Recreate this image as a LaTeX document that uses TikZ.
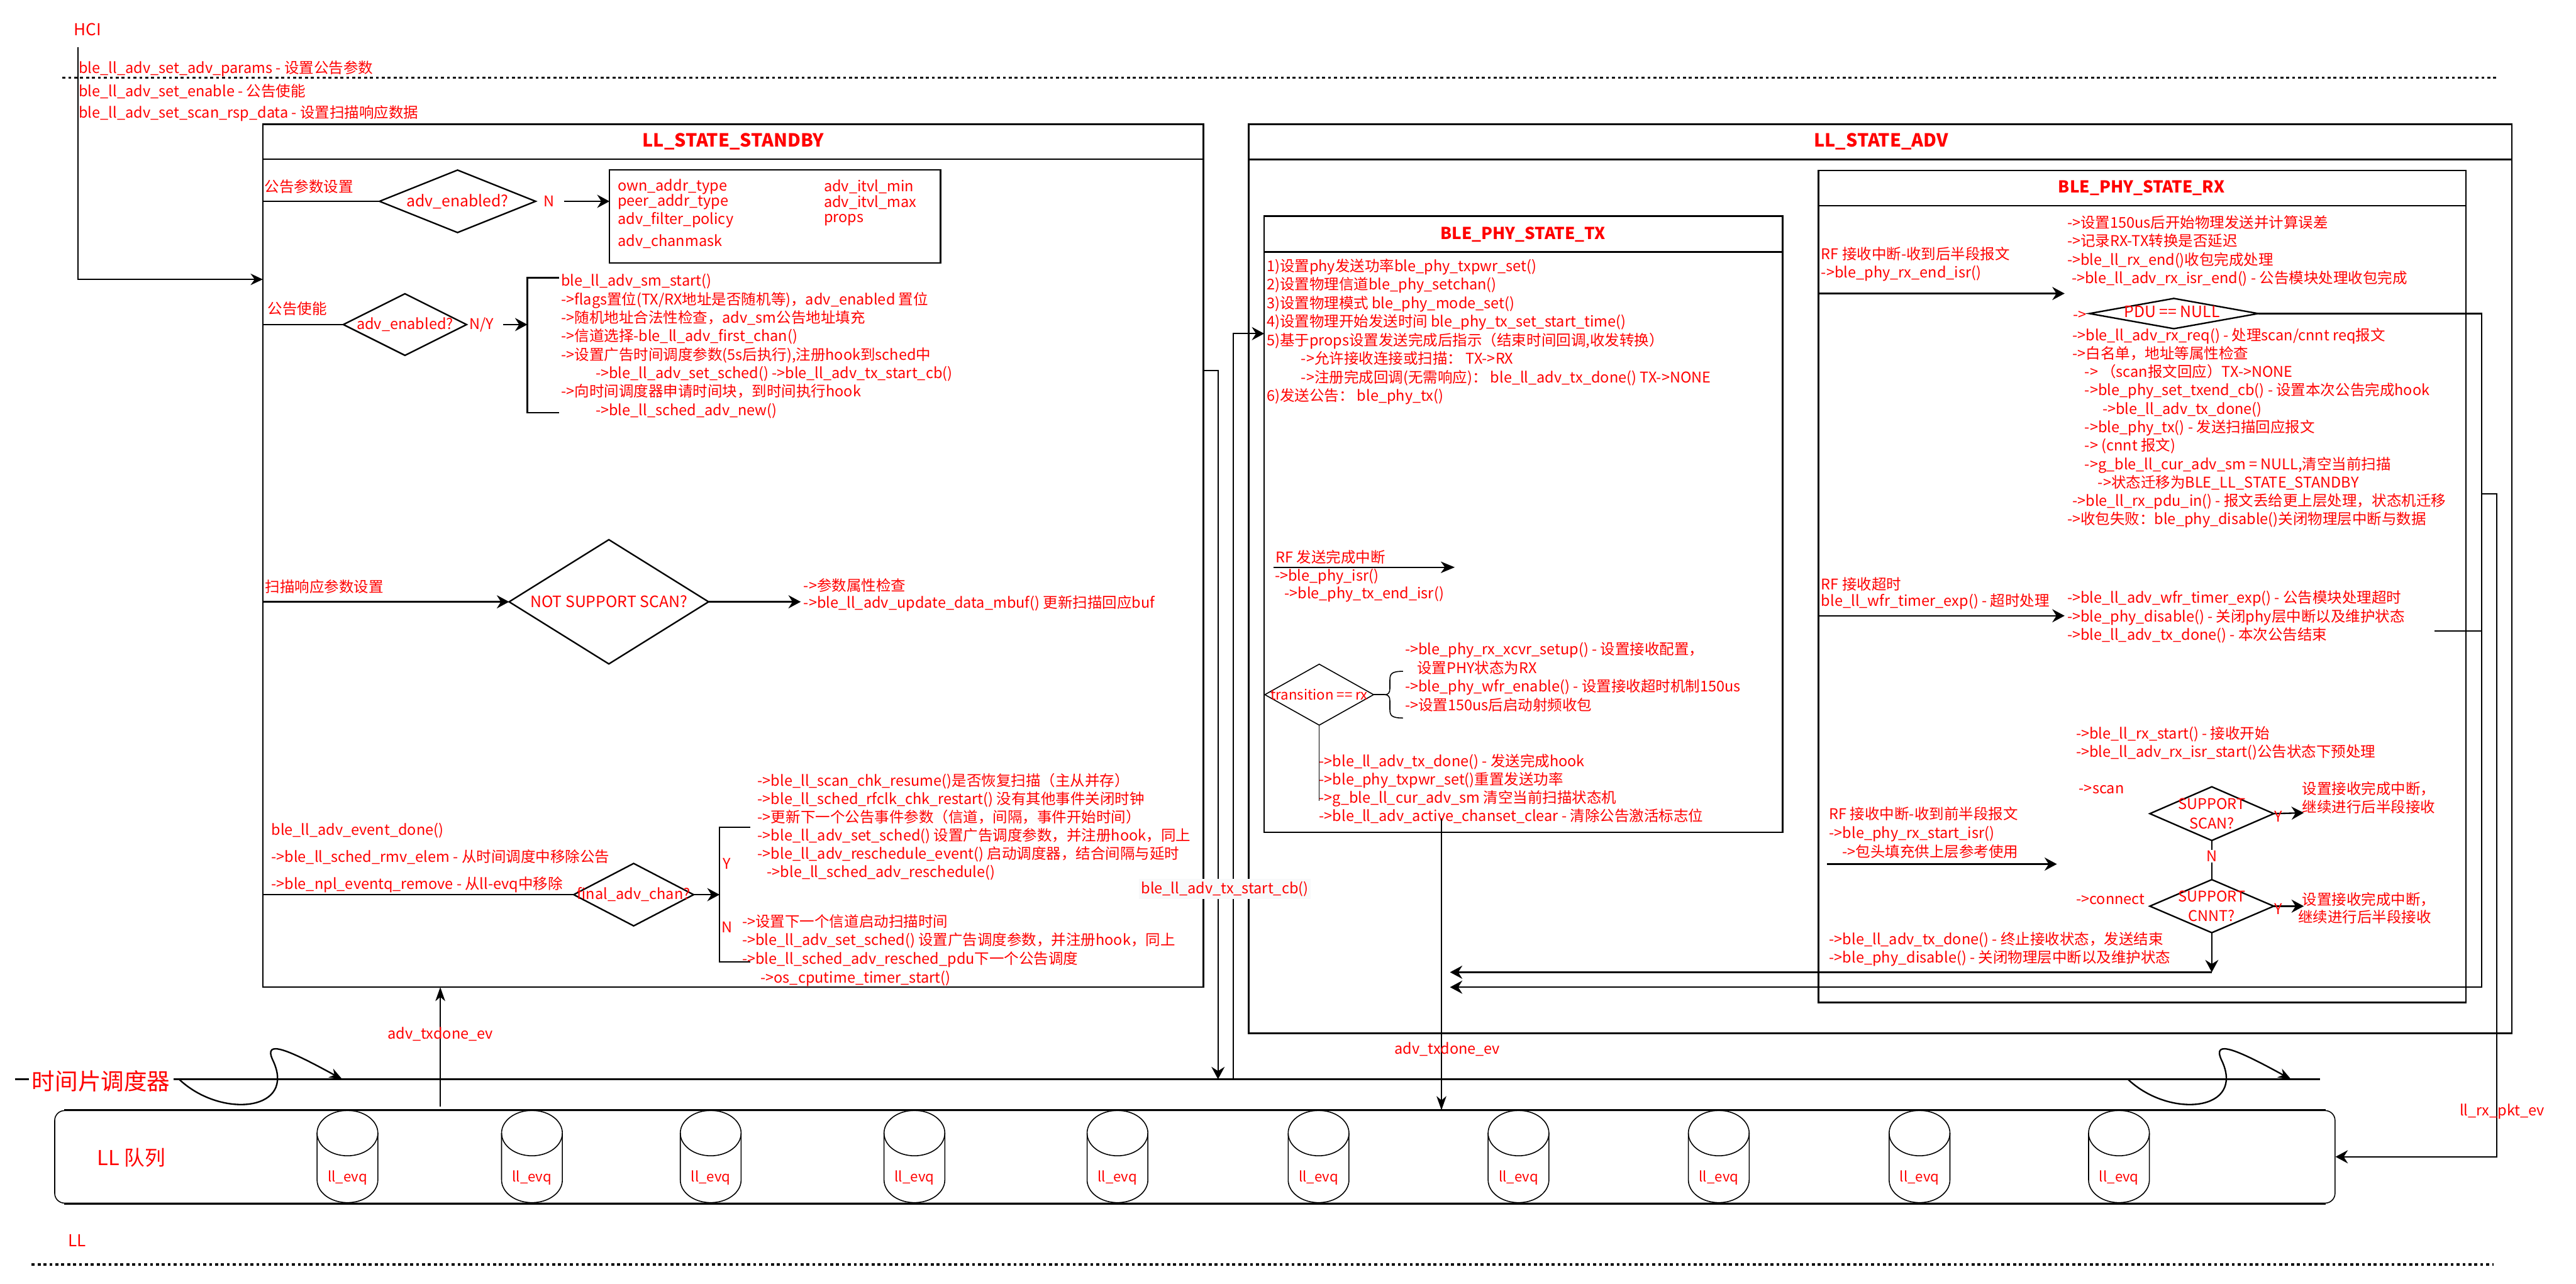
\documentclass[tikz,border=0pt]{standalone}
\usepackage{fontspec}
\setmainfont{Noto Sans CJK SC}
\usetikzlibrary{shapes.geometric,arrows.meta,calc}
\definecolor{rd}{RGB}{255,0,0}
\definecolor{lblbg}{RGB}{248,249,250}
\tikzset{
 box/.style={draw, line width=1pt, rectangle, inner sep=0pt, outer sep=0pt, anchor=north west},
 txt/.style={text=rd, inner sep=0pt, outer sep=0pt, align=left, anchor=north west, font=\fontsize{9}{11.3}\selectfont},
 lt/.style={text=rd, inner sep=0pt, outer sep=0pt, anchor=west, font=\fontsize{9}{11}\selectfont},
 ct/.style={text=rd, inner sep=0pt, outer sep=0pt, font=\fontsize{9}{11}\selectfont},
 ttl/.style={text=rd, inner sep=0pt, font=\bfseries\fontsize{10.5}{12}\selectfont},
 dia/.style={draw, diamond, line width=0.9pt, inner sep=0pt, outer sep=0pt},
 con/.style={line width=0.9pt},
 arr/.style={con, -{Stealth[length=7.5pt,width=8pt,inset=2.5pt]}},
 thn/.style={line width=0.5pt},
 tarr/.style={thn, -{Stealth[length=8.5pt,width=6pt,inset=2.5pt]}},
 tarr2/.style={line width=0.6pt, -{Stealth[length=8.5pt,width=7pt,inset=2.5pt]}},
 dotl/.style={line width=1.4pt, dash pattern=on 1.8pt off 1.8pt},
}
\begin{document}
\begin{tikzpicture}[x=1pt,y=-1pt]
\useasboundingbox (0,0) rectangle (1568,781);

% ---------- boxes ----------
\node (sb) [box, minimum width=572.5, minimum height=525.2] at (160,75.5) {};
\draw[line width=1pt] ($(sb.north west)+(0,21.3)$) -- ($(sb.north east)+(0,21.3)$);
\node (adv) [box, minimum width=769, minimum height=553.3] at (760,75.5) {};
\draw[line width=1pt] ($(adv.north west)+(0,21.5)$) -- ($(adv.north east)+(0,21.5)$);
\node (tx) [box, minimum width=315.5, minimum height=374.9] at (769.5,131.6) {};
\draw[line width=1pt] ($(tx.north west)+(0,21.8)$) -- ($(tx.north east)+(0,21.8)$);
\node (rx) [box, minimum width=394, minimum height=506.3] at (1107,103.7) {};
\draw[line width=1pt] ($(rx.north west)+(0,21.5)$) -- ($(rx.north east)+(0,21.5)$);
\node (pb) [box, minimum width=201.5, minimum height=56.6] at (371,103.4) {};
\node (q) [draw, line width=0.6pt, rounded corners=6pt, inner sep=0pt, anchor=north west, minimum width=1388, minimum height=56.3] at (33,675.5) {};
\draw[line width=1.3pt] ($(q.north west)+(6,0)$) -- ($(q.north east)+(-6,0)$);
\draw[line width=1.3pt] ($(q.south west)+(6,0)$) -- ($(q.south east)+(-6,0)$);

% ---------- HCI ----------
\node (hci) [lt, font=\fontsize{10}{12}\selectfont] at (45,18) {HCI};
\draw[dotl] (38,47.3) -- (1520,47.3);
\node (h1) [lt] at (48,42) {ble\_ll\_adv\_set\_adv\_params - 设置公告参数};
\node (h2) [lt] at (48,55.5) {ble\_ll\_adv\_set\_enable - 公告使能};
\node (h3) [lt] at (48,69) {ble\_ll\_adv\_set\_scan\_rsp\_data - 设置扫描响应数据};
\coordinate (hc1) at (47.4,28.6);
\coordinate (hc2) at (160,170);
\draw[line width=0.6pt, -{Stealth[length=7.5pt,width=7pt,inset=2.5pt]}] (hc1) |- (hc2);

% ---------- STANDBY ----------
\node (sbt) [ttl, font=\bfseries\fontsize{11}{13}\selectfont] at (446.3,86.3) {LL\_STATE\_STANDBY};
\node (s1) [lt] at (161,113.5) {公告参数设置};
\node (d1) [dia, minimum width=95, minimum height=38] at (278.5,122.5) {};
\node (d1t) [ct, font=\fontsize{9.5}{11}\selectfont] at (d1) {adv\_enabled?};
\draw[con] (sb.west |- d1) -- (d1.west);
\node (n1) [ct] at (334,122.5) {N};
\draw[arr] ($(n1.east)+(6,0)$) -- (pb.west |- n1);
\node (p1) [lt] at (376,113.5) {own\_addr\_type};
\node (p2) [lt] at (376,123) {peer\_addr\_type};
\node (p3) [lt] at (376,134) {adv\_filter\_policy};
\node (p4) [lt] at (376,147) {adv\_chanmask};
\node (p5) [lt] at (501.5,113.5) {adv\_itvl\_min};
\node (p6) [lt] at (501.5,123) {adv\_itvl\_max};
\node (p7) [lt] at (501.5,134) {props};

\node (s2) [lt] at (163,188) {公告使能};
\node (d2) [dia, minimum width=75, minimum height=37.5] at (246.5,197.5) {};
\node (d2t) [ct] at (d2) {adv\_enabled?};
\draw[con] (sb.west |- d2) -- (d2.west);
\node (n2) [ct] at (293,197.5) {N/Y};
\coordinate (br1t) at (340.5,169);
\coordinate (br1b) at (340.5,251);
\coordinate (br1m) at (321,197.5);
\draw[con] (br1t) -| (br1m) |- (br1b);
\draw[arr] ($(n2.east)+(6,0)$) -- (br1m);
\node (s3) [txt, font=\fontsize{9}{11.24}\selectfont] at (341.6,166.7) {ble\_ll\_adv\_sm\_start()\\
->flags置位(TX/RX地址是否随机等)，adv\_enabled 置位\\
->随机地址合法性检查，adv\_sm公告地址填充\\
->信道选择-ble\_ll\_adv\_first\_chan()\\
->设置广告时间调度参数(5s后执行),注册hook到sched中\\
\hspace*{21pt}->ble\_ll\_adv\_set\_sched() ->ble\_ll\_adv\_tx\_start\_cb()\\
->向时间调度器申请时间块，到时间执行hook\\
\hspace*{21pt}->ble\_ll\_sched\_adv\_new()};

\node (s4) [lt] at (161.5,357) {扫描响应参数设置};
\node (d3) [dia, minimum width=121.4, minimum height=75.6] at (370.6,366.2) {};
\node (d3t) [ct, font=\fontsize{9.5}{11}\selectfont] at (d3) {NOT SUPPORT SCAN?};
\draw[arr] (sb.west |- d3) -- (d3.west);
\coordinate (s5a) at (487.4,366.2);
\draw[arr] (d3.east) -- (s5a);
\node (s5) [lt] at (489.2,356.4) {->参数属性检查};
\node (s6) [lt] at (489.2,367.3) {->ble\_ll\_adv\_update\_data\_mbuf() 更新扫描回应buf};

\node (s7) [txt, font=\fontsize{9}{16.45}\selectfont] at (165.2,500.7) {ble\_ll\_adv\_event\_done()\\
->ble\_ll\_sched\_rmv\_elem - 从时间调度中移除公告\\
->ble\_npl\_eventq\_remove - 从ll-evq中移除};
\node (d4) [dia, minimum width=73, minimum height=38] at (385.7,544.4) {};
\node (d4t) [ct] at (d4) {final\_adv\_chan?};
\draw[con] (sb.west |- d4) -- (d4.west);
\coordinate (br2t) at (456.7,503.4);
\coordinate (br2b) at (456.7,585.2);
\coordinate (br2m) at (438,544.4);
\draw[con] (br2t) -| (br2m) |- (br2b);
\draw[arr] (d4.east) -- (br2m);
\node (yy) [ct] at (442.5,525.4) {Y};
\node (nn) [ct] at (442.5,564.3) {N};
\node (s8) [txt, font=\fontsize{9}{11.15}\selectfont] at (461.2,470.5) {->ble\_ll\_scan\_chk\_resume()是否恢复扫描（主从并存）\\
->ble\_ll\_sched\_rfclk\_chk\_restart() 没有其他事件关闭时钟\\
->更新下一个公告事件参数（信道，间隔，事件开始时间）\\
->ble\_ll\_adv\_set\_sched() 设置广告调度参数，并注册hook，同上\\
->ble\_ll\_adv\_reschedule\_event() 启动调度器，结合间隔与延时\\
\hspace*{5.7pt}->ble\_ll\_sched\_adv\_reschedule()};
\node (s9) [txt, font=\fontsize{9}{11.43}\selectfont] at (451.8,556.3) {->设置下一个信道启动扫描时间\\
->ble\_ll\_adv\_set\_sched() 设置广告调度参数，并注册hook，同上\\
->ble\_ll\_sched\_adv\_resched\_pdu下一个公告调度\\
\hspace*{11.2pt}->os\_cputime\_timer\_start()};

% ---------- ADV ----------
\node (advt) [ttl, font=\bfseries\fontsize{11}{13}\selectfont] at (1145,86.3) {LL\_STATE\_ADV};

% TX
\node (txh) [ttl, font=\bfseries\fontsize{10}{12}\selectfont] at (927,142.5) {BLE\_PHY\_STATE\_TX};
\node (t1) [txt, font=\fontsize{9}{11.29}\selectfont] at (771,157.5) {1)设置phy发送功率ble\_phy\_txpwr\_set()\\
2)设置物理信道ble\_phy\_setchan()\\
3)设置物理模式 ble\_phy\_mode\_set()\\
4)设置物理开始发送时间 ble\_phy\_tx\_set\_start\_time()\\
5)基于props设置发送完成后指示（结束时间回调,收发转换）\\
\hspace*{21pt}->允许接收连接或扫描： TX->RX\\
\hspace*{21pt}->注册完成回调(无需响应)： ble\_ll\_adv\_tx\_done() TX->NONE\\
6)发送公告： ble\_phy\_tx()};
\node (t2) [lt] at (776.6,338.9) {RF 发送完成中断};
\coordinate (t2a) at (775,345.2);
\coordinate (t2b) at (885.5,345.2);
\draw[tarr2] (t2a) -- (t2b);
\node (t3) [lt] at (776,350.8) {->ble\_phy\_isr()};
\node (t4) [lt] at (781.8,361.8) {->ble\_phy\_tx\_end\_isr()};
\node (d5) [dia, line width=0.6pt, minimum width=66.2, minimum height=37.1] at (803,422.7) {};
\node (d5t) [ct, font=\fontsize{8.5}{10}\selectfont] at (d5) {transition == rx};
\coordinate (brc) at (843,422.7);
\draw[line width=0.6pt] (d5.east) -- (brc);
\draw[line width=0.6pt] (854,408.5) .. controls (847,408.5) and (846,410) .. (846,414) -- (846,419) .. controls (846,421.5) and (845,422.7) .. (brc) .. controls (845,422.7) and (846,424) .. (846,426.4) -- (846,431.5) .. controls (846,435.4) and (847,436.9) .. (854,436.9);
\node (t5) [txt, font=\fontsize{9}{11.27}\selectfont] at (855.2,390.9) {->ble\_phy\_rx\_xcvr\_setup() - 设置接收配置，\\
\hspace*{7.4pt}设置PHY状态为RX\\
->ble\_phy\_wfr\_enable() - 设置接收超时机制150us\\
->设置150us后启动射频收包};
\coordinate (t6a) at (803,487.5);
\draw[line width=0.6pt] (d5.south) -- (t6a);
\node (t6) [txt, font=\fontsize{9}{11.2}\selectfont] at (803,458.7) {->ble\_ll\_adv\_tx\_done() - 发送完成hook\\
->ble\_phy\_txpwr\_set()重置发送功率\\
->g\_ble\_ll\_cur\_adv\_sm 清空当前扫描状态机\\
->ble\_ll\_adv\_active\_chanset\_clear - 清除公告激活标志位};

% RX
\node (rxh) [ttl, font=\bfseries\fontsize{10}{12}\selectfont] at (1303.5,114.4) {BLE\_PHY\_STATE\_RX};
\node (r1) [lt] at (1108.6,154.3) {RF 接收中断-收到后半段报文};
\node (r1b) [lt] at (1108.6,166.3) {->ble\_phy\_rx\_end\_isr()};
\coordinate (r1c) at (1256.7,178.6);
\draw[arr] (rx.west |- r1c) -- (r1c);
\node (r2) [txt, font=\fontsize{9}{11.33}\selectfont] at (1258.3,131) {->设置150us后开始物理发送并计算误差\\
->记录RX-TX转换是否延迟\\
->ble\_ll\_rx\_end()收包完成处理\\
\hspace*{2.7pt}->ble\_ll\_adv\_rx\_isr\_end() - 公告模块处理收包完成};
\node (r2b) [lt] at (1262,191.8) {->};
\node (d6) [dia, minimum width=102.8, minimum height=18.4] at (1323.2,190.8) {};
\node (d6t) [ct, font=\fontsize{9.5}{11}\selectfont] at (1322,189.8) {PDU == NULL};
\coordinate (v1) at (1510.5,190.8);
\coordinate (v2) at (1510.5,600.7);
\coordinate (v3) at (882.6,600.7);
\draw[arr] (d6.east) -- (v1) -- (v2) -- (v3);
\node (r3) [txt, font=\fontsize{9}{11.21}\selectfont] at (1258.3,199.5) {\hspace*{3.2pt}->ble\_ll\_adv\_rx\_req() - 处理scan/cnnt req报文\\
\hspace*{3.2pt}->白名单，地址等属性检查\\
\hspace*{10.7pt}-> （scan报文回应）TX->NONE\\
\hspace*{10.7pt}->ble\_phy\_set\_txend\_cb() - 设置本次公告完成hook\\
\hspace*{21.5pt}->ble\_ll\_adv\_tx\_done()\\
\hspace*{10.7pt}->ble\_phy\_tx() - 发送扫描回应报文\\
\hspace*{10.7pt}-> (cnnt 报文)\\
\hspace*{10.7pt}->g\_ble\_ll\_cur\_adv\_sm = NULL,清空当前扫描\\
\hspace*{18.7pt}->状态迁移为BLE\_LL\_STATE\_STANDBY\\
\hspace*{3.2pt}->ble\_ll\_rx\_pdu\_in() - 报文丢给更上层处理，状态机迁移\\
->收包失败：ble\_phy\_disable()关闭物理层中断与数据};

\node (r4) [lt] at (1108.6,355.4) {RF 接收超时};
\node (r4b) [lt] at (1108.6,366.2) {ble\_ll\_wfr\_timer\_exp() - 超时处理};
\coordinate (r4c) at (1256.7,374.7);
\draw[arr] (rx.west |- r4c) -- (r4c);
\node (r5) [txt, font=\fontsize{9}{11.2}\selectfont] at (1258.3,359.5) {->ble\_ll\_adv\_wfr\_timer\_exp() - 公告模块处理超时\\
->ble\_phy\_disable() - 关闭phy层中断以及维护状态\\
->ble\_ll\_adv\_tx\_done() - 本次公告结束};
\coordinate (r5c) at (1482,384);
\draw[con] (r5c) -- (v1 |- r5c);

\node (r6) [txt, font=\fontsize{9}{10.9}\selectfont] at (1263.7,442.1) {->ble\_ll\_rx\_start() - 接收开始\\
->ble\_ll\_adv\_rx\_isr\_start()公告状态下预处理};
\node (r7) [lt] at (1265.5,480.1) {->scan};
\node (d7) [dia, minimum width=75.4, minimum height=32.7] at (1346.3,495.1) {};
\node (d7t) [ct, align=center, font=\fontsize{9}{11.7}\selectfont] at (d7) {SUPPORT\\SCAN?};
\coordinate (d7y) at (1402.3,494.6);
\draw[arr] (d7.east) -- (d7y);
\node (y1) [ct] at (1387,497) {Y};
\node (r8) [txt, font=\fontsize{9}{10.8}\selectfont] at (1401.4,475.8) {设置接收完成中断，\\继续进行后半段接收};
\node (d8) [dia, minimum width=75.4, minimum height=32.3] at (1346.3,551.4) {};
\node (d8t) [ct, align=center, font=\fontsize{9}{11.7}\selectfont] at (d8) {SUPPORT\\CNNT?};
\draw[con] (d7.south) -- (d8.north);
\node (n3) [ct, fill=white, inner sep=0.5pt] at (1346.4,521) {N};
\node (r9) [lt] at (1263.7,547.4) {->connect};
\coordinate (d8y) at (1402.3,551.4);
\draw[arr] (d8.east) -- (d8y);
\node (y2) [ct] at (1387,553) {Y};
\node (r10) [lt] at (1401.4,547.4) {设置接收完成中断，};
\node (r10b) [lt] at (1398.8,558.1) {继续进行后半段接收};
\coordinate (w1) at (1346.3,591.6);
\coordinate (w2) at (882.6,591.6);
\draw[arr] (d8.south) -- (w1);
\draw[arr] (w1) -- (w2);
\node (r11) [txt, font=\fontsize{9}{11.5}\selectfont] at (1113.5,491) {RF 接收中断-收到前半段报文\\
->ble\_phy\_rx\_start\_isr()\\
\hspace*{8pt}->包头填充供上层参考使用};
\coordinate (r11a) at (1112,525.8);
\coordinate (r11b) at (1252,525.8);
\draw[arr] (r11a) -- (r11b);
\node (r12) [txt, font=\fontsize{9}{11.1}\selectfont] at (1113.5,567.3) {->ble\_ll\_adv\_tx\_done() - 终止接收状态，发送结束\\
->ble\_phy\_disable() - 关闭物理层中断以及维护状态};

% ---------- timeline & connectors ----------
\coordinate (tl0) at (9,656.7);
\coordinate (tl1) at (1412,656.7);
\draw[line width=1.2pt] (tl0) -- (tl1);
\node (tlt) [ct, fill=white, inner xsep=2pt, inner ysep=1pt, font=\fontsize{14}{16}\selectfont] at (61.5,657.7) {时间片调度器};
\foreach \o in {0,1186.2} {
  \draw[con, -{Stealth[length=8pt,width=6pt,inset=2.5pt]}] (109.3+\o,657) .. controls (135+\o,681) and (181+\o,676) .. (166+\o,645) .. controls (160+\o,632) and (176+\o,639) .. (208.4+\o,656.8);
}

\coordinate (c1) at (741.4,225.4);
\draw[arr] (sb.east |- c1) -- (c1) -- (c1 |- tl0);
\coordinate (c2) at (750.7,203);
\draw[arr] (c2 |- tl0) -- (c2) -- (tx.west |- c2);
\node (lb1) [ct, fill=lblbg, inner sep=1.5pt] at (745.5,541) {ble\_ll\_adv\_tx\_start\_cb()};

\coordinate (t7a) at (877.4,498);
\draw[tarr] (t7a) -- (q.north -| t7a);
\node (lb2) [ct] at (881,638.5) {adv\_txdone\_ev};

\coordinate (u1) at (268,673.2);
\draw[tarr] (u1) -- (sb.south -| u1);
\node (lb4) [ct] at (268,629.4) {adv\_txdone\_ev};

\coordinate (k1) at (1519.7,300.6);
\coordinate (k2) at (1519.7,703.9);
\draw[arr] (v1 |- k1) -- (k1) -- (k2) -- (q.east |- k2);
\node (lb3) [ct] at (1523,676.5) {ll\_rx\_pkt\_ev};

% ---------- LL queue ----------
\node (qt) [ct, font=\fontsize{12.5}{14}\selectfont] at (80,704.4) {LL 队列};
\foreach \cx [count=\i] in {211.5,323.8,432.6,556.6,680.2,802.6,924.3,1046.2,1168.4,1289.8} {
  \draw[line width=0.6pt] (\cx,689.5) ellipse [x radius=18.5, y radius=13.8];
  \draw[line width=0.6pt] (\cx-18.5,689.5) -- (\cx-18.5,718) arc[start angle=180, end angle=0, x radius=18.5, y radius=13.8] -- (\cx+18.5,689.5);
  \node (e\i) [ct, font=\fontsize{8.5}{10}\selectfont] at (\cx,716.8) {ll\_evq};
}

% ---------- LL ----------
\node (ll) [ct, font=\fontsize{10}{12}\selectfont] at (47,755) {LL};
\draw[dotl] (19.3,769.4) -- (1518,769.4);
\end{tikzpicture}
\end{document}
